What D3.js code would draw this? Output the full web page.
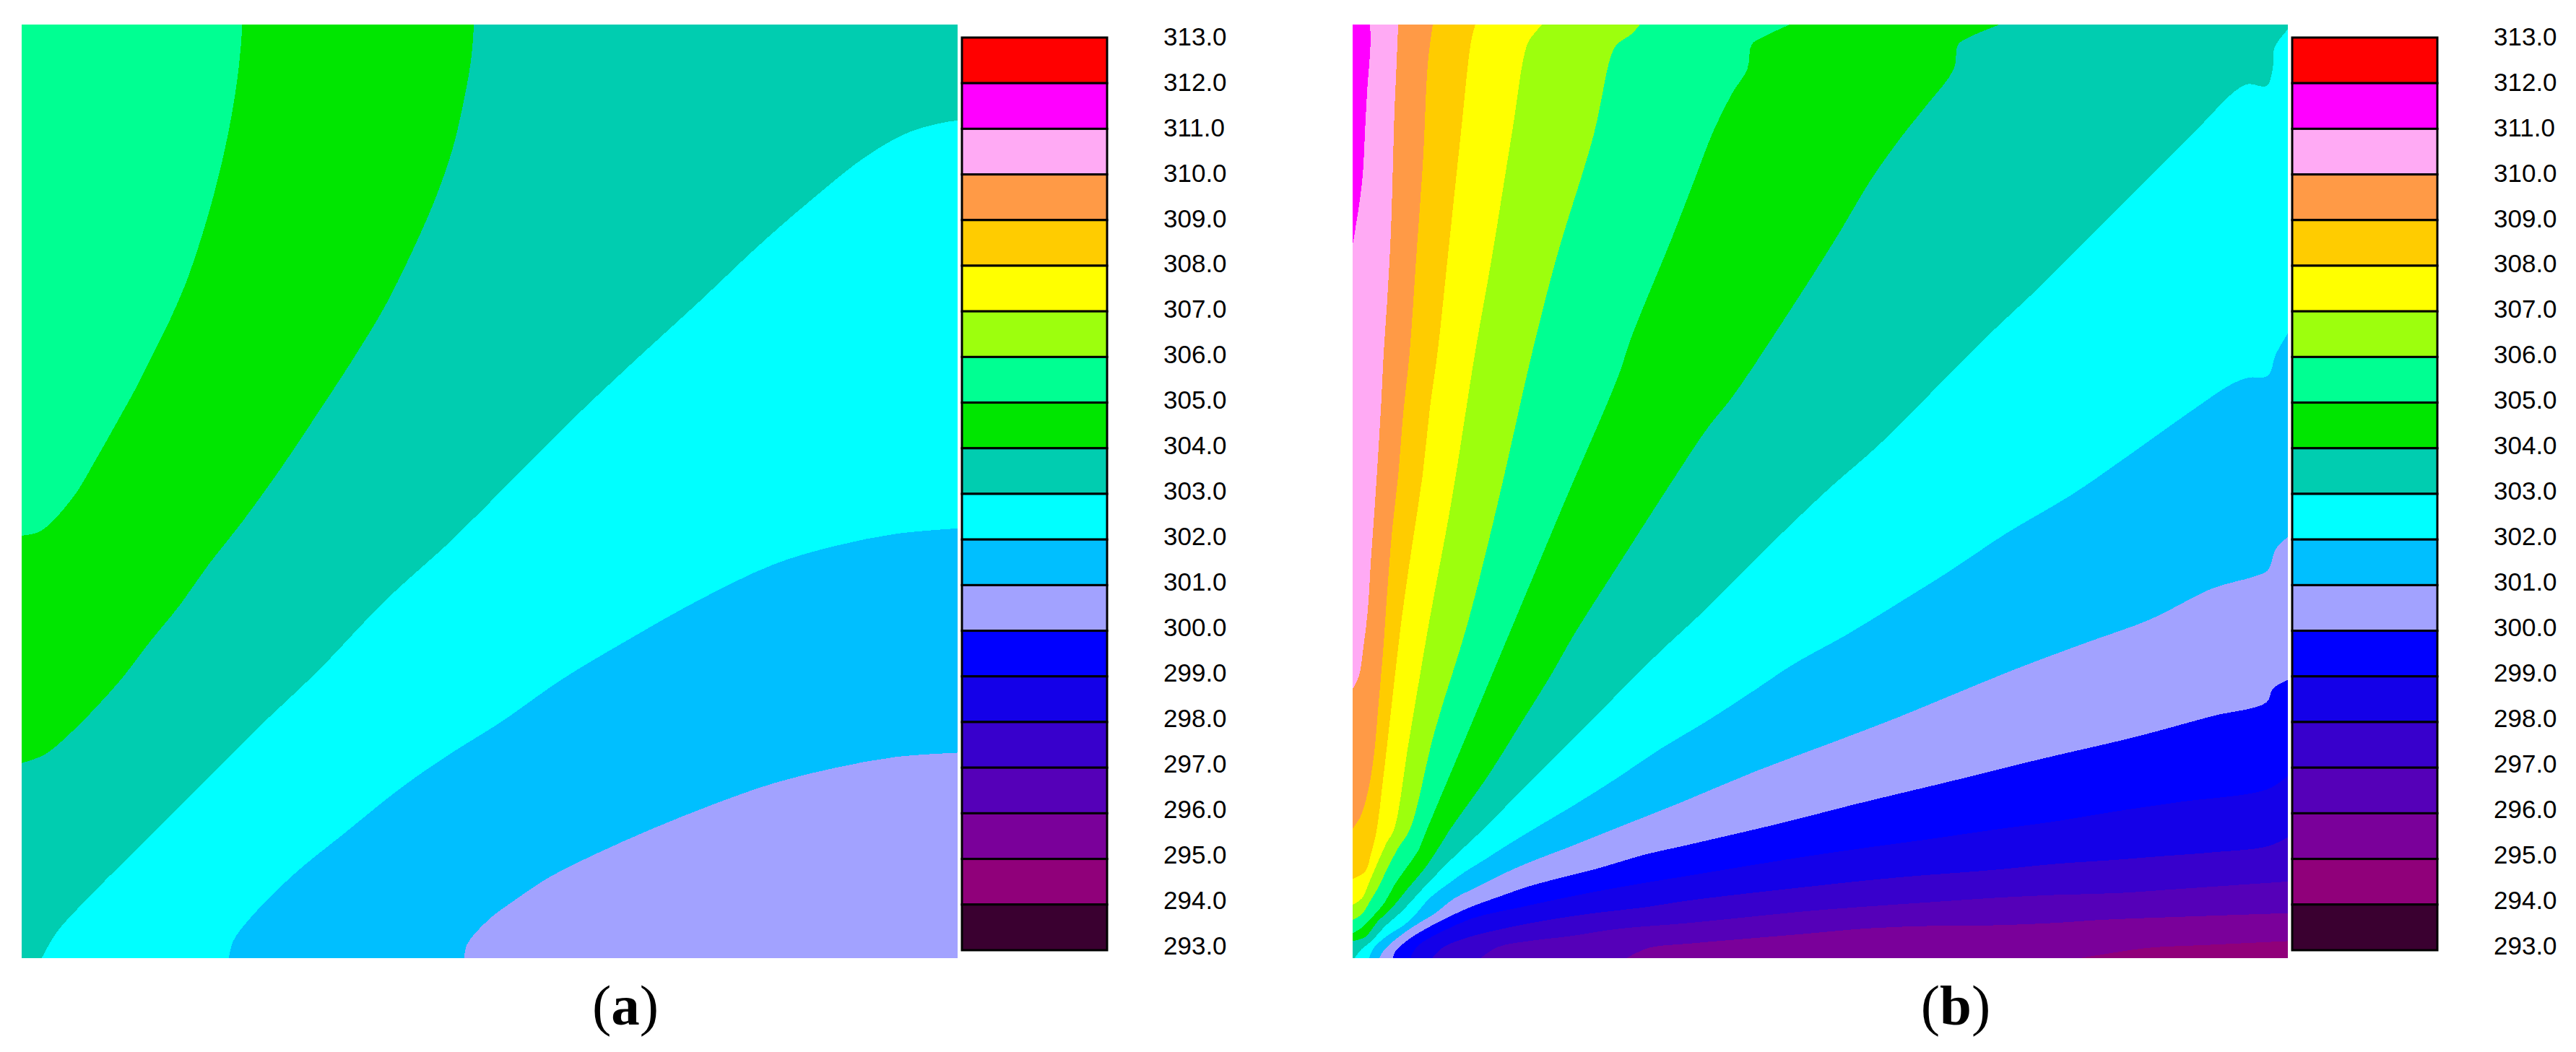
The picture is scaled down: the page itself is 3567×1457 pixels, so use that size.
<!DOCTYPE html>
<html>
<head>
<meta charset="utf-8">
<script src="https://cdn.jsdelivr.net/npm/d3@7"></script>
<style>
  body { margin: 0; background: #fff; }
  svg { display: block; }
</style>
</head>
<body>
<script>
// legend, top cell first. cell i spans (312 - i) .. (313 - i)
var bandColors = ["#FF0000", "#FF00FF", "#FFAAF4", "#FF9A46", "#FFCC00", "#FFFF00", "#9DFF0D",
    "#00FF92", "#00E600", "#00CDB0", "#00FFFF", "#00BFFF", "#A2A2FF", "#0000FF",
    "#1400E8", "#3800CC", "#5500B8", "#7A009A", "#90007A", "#3A0030"];
var tickValues = d3.range(293, 314);

// isotherms, [x, y] in grid units (0..1540, 0..1536, y up)
// panel a
var a305 = [[0,695],[28,701],[50,718],[88,763],[118,813],[153,875],[188,938],[213,988],[243,1048],[273,1118],[298,1193],[318,1263],[338,1348],[353,1433],[360,1493],[363,1536]];
var a304 = [[0,321],[38,335],[78,368],[118,408],[163,458],[213,523],[258,578],[308,648],[363,718],[428,808],[488,898],[548,990],[598,1073],[638,1153],[678,1243],[708,1328],[728,1413],[740,1483],[744,1536]];
var a303 = [[33,0],[58,43],[118,108],[198,188],[288,278],[388,378],[488,473],[598,588],[708,688],[808,788],[908,888],[998,973],[1118,1083],[1208,1168],[1288,1238],[1388,1318],[1458,1358],[1518,1375],[1540,1378]];
var a302 = [[341,0],[348,28],[378,68],[448,138],[528,203],[628,283],[708,338],[788,388],[888,458],[988,518],[1118,591],[1238,648],[1338,678],[1438,698],[1540,707]];
var a301 = [[728,0],[733,23],[768,63],[808,93],[868,133],[948,173],[1038,213],[1138,253],[1238,288],[1338,313],[1438,331],[1540,338]];

// panel b
var b311 = [[0,1173],[5,1203],[12,1248],[17,1293],[21,1373],[25,1443],[29,1493],[29,1536]];
var b310 = [[0,443],[10,463],[18,513],[25,573],[30,653],[35,723],[41,813],[47,913],[51,993],[57,1083],[63,1196],[69,1395],[72,1463],[75,1536]];
var b309 = [[0,213],[13,233],[25,273],[35,333],[43,423],[50,503],[57,603],[65,703],[75,793],[83,893],[94,998],[104,1142],[116,1315],[124,1474],[132,1536]];
var b308 = [[0,130],[21,143],[30,171],[39,207],[50,293],[65,423],[80,553],[97,673],[115,793],[127,903],[140,998],[157,1157],[178,1355],[195,1508],[202,1536]];
var b307 = [[0,88],[15,98],[27,124],[42,159],[56,190],[68,211],[92,353],[126,553],[163,753],[202,998],[230,1157],[262,1355],[287,1502],[298,1520],[312,1536]];
var b306 = [[0,63],[15,72],[29,94],[42,116],[56,145],[76,183],[94,211],[135,373],[190,553],[240,753],[296,998],[337,1157],[397,1355],[425,1483],[435,1503],[460,1521],[473,1536]];
var b305 = [[0,41],[15,50],[29,64],[53,92],[68,119],[88,148],[107,175],[122,211],[182,353],[266,553],[350,753],[438,959],[458,1019],[525,1183],[560,1273],[595,1363],[625,1423],[650,1463],[657,1503],[675,1515],[720,1536]];
var b304 = [[0,28],[21,35],[41,60],[65,83],[92,116],[119,148],[145,187],[160,211],[225,303],[275,383],[325,463],[365,533],[435,643],[525,783],[585,873],[625,923],[725,1073],[795,1183],[855,1283],[905,1353],[945,1403],[990,1463],[997,1503],[1015,1515],[1065,1536]];
var b303 = [[3,0],[15,15],[30,27],[54,53],[80,76],[119,118],[160,160],[214,211],[285,283],[385,383],[505,503],[575,568],[675,668],[785,773],[865,843],[985,963],[1045,1023],[1135,1108],[1215,1188],[1285,1258],[1385,1358],[1455,1428],[1475,1438],[1505,1435],[1515,1463],[1518,1498],[1540,1528]];
var b302 = [[27,0],[35,17],[56,36],[84,54],[100,68],[128,100],[160,124],[185,142],[219,163],[250,183],[296,211],[370,255],[435,296],[505,343],[585,391],[665,443],[725,483],[815,533],[905,588],[985,638],[1075,698],[1185,763],[1265,818],[1385,903],[1445,943],[1475,955],[1507,958],[1520,993],[1540,1028]];
var b301 = [[44,0],[50,11],[72,32],[100,52],[136,74],[167,98],[207,118],[255,142],[297,160],[357,183],[427,211],[545,258],[665,308],[785,353],[895,395],[985,432],[1085,473],[1205,518],[1315,558],[1415,608],[1485,628],[1507,638],[1520,673],[1540,693]];
var b300 = [[66,0],[71,12],[94,32],[131,54],[167,72],[199,86],[238,100],[290,118],[338,131],[409,149],[476,169],[555,187],[705,222],[835,255],[985,291],[1135,328],[1285,363],[1415,398],[1505,421],[1515,443],[1540,458]];
var b299 = [[95,0],[107,20],[148,44],[199,66],[278,84],[357,101],[436,116],[555,136],[745,167],[848,182],[951,196],[1054,211],[1157,225],[1260,242],[1363,257],[1507,278],[1540,300]];
var b298 = [[131,0],[148,17],[183,32],[255,50],[318,62],[397,74],[476,83],[555,95],[745,117],[900,133],[1054,145],[1157,155],[1260,162],[1322,167],[1415,174],[1507,184],[1540,199]];
var b297 = [[211,0],[238,18],[297,29],[357,36],[436,48],[555,58],[745,77],[848,85],[951,92],[1054,99],[1157,104],[1260,107],[1363,114],[1540,126]];
var b296 = [[451,0],[488,17],[555,24],[745,40],[848,49],[951,53],[1054,54],[1157,58],[1234,63],[1363,68],[1540,74]];
var b295 = [[1198,0],[1260,10],[1311,17],[1414,22],[1540,28]];

var aLevels = [301, 302, 303, 304, 305];
var aLines = [a301, a302, a303, a304, a305];
var bLevels = [295, 296, 297, 298, 299, 300, 301, 302, 303, 304, 305, 306, 307, 308, 309, 310, 311];
var bLines = [b295, b296, b297, b298, b299, b300, b301, b302, b303, b304, b305, b306, b307, b308, b309, b310, b311];

var w = 3567;
var h = 1457;
var gridW = 1540;
var gridH = 1536;

var svg = d3.select("body")
    .append("svg")
    .attr("width", w)
    .attr("height", h);

svg.append("rect")
    .attr("width", w)
    .attr("height", h)
    .attr("fill", "#fff");

function bandColor(level) {
    return bandColors[312 - level];
}

function drawPanel(left, right, levels, lines, baseLevel, name, nameX) {
    var top = 34;
    var bottom = 1327;

    var xScale = d3.scaleLinear().domain([0, gridW]).range([left, right]);
    var yScale = d3.scaleLinear().domain([0, gridH]).range([bottom, top]);

    var line = d3.line()
        .x(function (d) { return xScale(d[0]); })
        .y(function (d) { return yScale(d[1]); })
        .curve(d3.curveCatmullRom.alpha(0.5));

    // lowest band first, every isotherm then paints everything on its upper left
    svg.append("rect")
        .attr("x", left)
        .attr("y", top)
        .attr("width", right - left)
        .attr("height", bottom - top)
        .attr("fill", bandColor(baseLevel));

    svg.selectAll(null)
        .data(levels)
        .enter()
        .append("path")
        .attr("fill", function (d) { return bandColor(d); })
        .attr("shape-rendering", "crispEdges")
        .attr("d", function (d, i) {
            var pts = lines[i];
            var first = pts[0];
            var last = pts[pts.length - 1];
            // close along the panel edge, straight
            var path = line(pts);
            if (last[0] === gridW) path += "L" + xScale(gridW) + "," + yScale(gridH);
            path += "L" + xScale(0) + "," + yScale(gridH);
            if (first[0] > 0) path += "L" + xScale(0) + "," + yScale(0);
            return path + "Z";
        });

    // colour bar
    var barLeft = right + 6;
    var barRight = barLeft + 201;
    var barScale = d3.scaleLinear().domain([293, 313]).range([1316, 52]);

    svg.selectAll(null)
        .data(bandColors)
        .enter()
        .append("rect")
        .attr("x", barLeft)
        .attr("y", function (d, i) { return barScale(313 - i); })
        .attr("width", barRight - barLeft)
        .attr("height", function (d, i) { return barScale(312 - i) - barScale(313 - i); })
        .attr("fill", function (d) { return d; })
        .attr("stroke", "#000")
        .attr("stroke-width", 3);

    var labelScale = d3.scaleLinear().domain([293, 313]).range([1310, 51]);
    var axis = d3.axisRight(labelScale)
        .tickValues(tickValues)
        .tickFormat(d3.format(".1f"))
        .tickSize(0)
        .tickPadding(0);

    var g = svg.append("g")
        .attr("transform", "translate(" + (barRight + 78) + ",0)")
        .call(axis);
    g.select(".domain").remove();
    g.selectAll("text")
        .attr("font-family", "'Liberation Sans', Arial, sans-serif")
        .attr("font-size", 35)
        .attr("fill", "#000");

    // (a) / (b) caption
    var cap = svg.append("text")
        .attr("x", nameX)
        .attr("y", 1419)
        .attr("text-anchor", "middle")
        .attr("font-family", "'Liberation Serif', 'Times New Roman', serif")
        .attr("font-size", 79)
        .attr("fill", "#000");
    cap.append("tspan").text("(");
    cap.append("tspan").attr("font-weight", "bold").text(name);
    cap.append("tspan").text(")");
}

drawPanel(30, 1326, aLevels, aLines, 300, "a", 866);
drawPanel(1873, 3168, bLevels, bLines, 294, "b", 2708);
</script>
</body>
</html>
